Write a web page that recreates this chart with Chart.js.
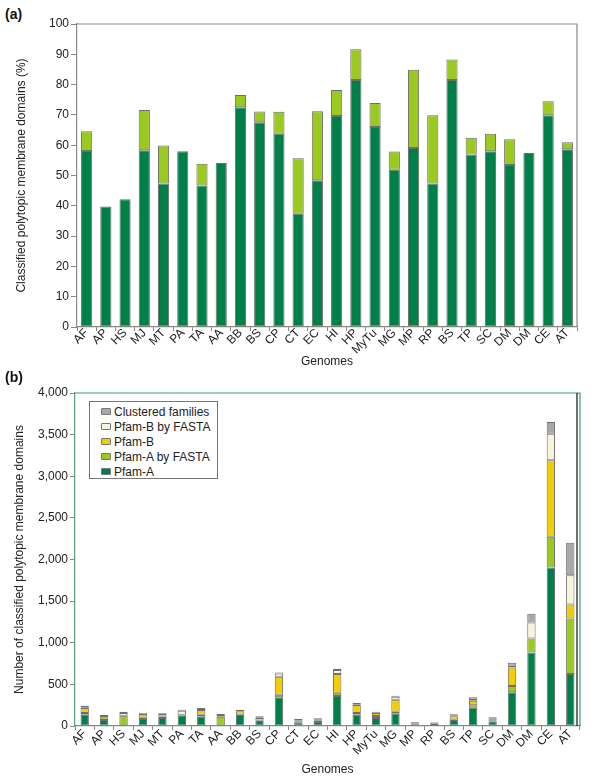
<!DOCTYPE html>
<html>
<head>
<meta charset="utf-8">
<script src="https://cdn.jsdelivr.net/npm/chart.js@4/dist/chart.umd.min.js"></script>
<style>
  body{margin:0;background:#fff;font-family:"Liberation Sans",Arial,sans-serif;}
  #wrap{position:relative;width:600px;height:781px;}
  .panel{position:absolute;left:0;}
  .tag{position:absolute;left:5px;font-weight:bold;font-size:14px;color:#111;}
  #legend{position:absolute;left:89px;top:401px;width:129px;height:78px;border:1px solid #777;background:#fff;
    font-size:12px;color:#222;padding:3px 0 0 0;box-sizing:border-box;}
  #legend div{height:15px;line-height:15px;padding-left:11px;white-space:nowrap;}
  #legend span{display:inline-block;width:8px;height:5px;border:1px solid #777;border-radius:1px;margin-right:3px;vertical-align:1px;}
</style>
</head>
<body>
<div id="wrap">
  <div class="tag" style="top:6px">(a)</div>
  <div class="panel" style="top:0"><canvas id="chartA" width="600" height="370"></canvas></div>
  <div class="tag" style="top:369px">(b)</div>
  <div class="panel" style="top:370px"><canvas id="chartB" width="600" height="411"></canvas></div>
  <div id="legend"></div>
</div>
<script>
// genomes on the x axis (same order in both panels)
const genomes = ['AF','AP','HS','MJ','MT','PA','TA','AA','BB','BS','CP','CT','EC','HI','HP','MyTu','MG','MP','RP','BS','TP','SC','DM','DM','CE','AT'];

// panel (a): % of polytopic membrane domains classified
const pctPfamA  = [58.1,39.8,42.2,58.3,47.4,58.0,46.7,54.1,72.5,67.6,63.8,37.4,48.4,69.6,81.5,66.0,51.9,59.1,47.4,81.5,56.9,58.0,53.5,57.4,69.9,58.7];
const pctFasta  = [6.5,0,0,13.3,12.5,0,7.2,0,4.1,3.5,7.2,18.3,22.8,8.6,10.2,7.9,6.0,25.8,22.5,6.8,5.6,5.8,8.5,0,4.6,2.3];

// panel (b): number of classified domains
const pfamA      = [136,72,0,84,96,128,112,0,132,60,344,40,48,360,136,96,148,20,24,72,220,56,404,884,1904,624];
const pfamAFasta = [20,32,124,16,16,4,24,112,4,4,32,16,16,40,20,24,24,8,8,4,30,8,76,168,368,668];
const pfamB      = [60,0,0,44,32,4,56,0,40,32,216,12,8,224,96,36,144,8,8,40,52,16,224,0,920,168];
const pfamBFasta = [8,16,32,4,4,48,0,8,4,4,40,4,8,48,4,4,36,4,4,8,10,8,20,192,320,352];
const clustered  = [20,12,16,8,8,12,24,24,12,16,12,12,12,16,20,12,12,8,8,16,32,16,36,104,140,388];

const pctTicks = [0,10,20,30,40,50,60,70,80,90,100];
const countTicks = [0,500,1000,1500,2000,2500,3000,3500,4000];

const C_DARK = '#008049', C_LIGHT = '#9ACA1F', C_YEL = '#F4CD00', C_CREAM = '#F6F4DA', C_GRAY = '#A8A8A8';
const EDGE = '#6e6e6e';
const FONT = '"Liberation Sans", Arial, sans-serif';

Chart.defaults.font.family = FONT;
Chart.defaults.color = '#222';

// frame around the plot area
const framePlugin = {
  id: 'frame',
  afterDraw(chart, args, opts){
    const a = chart.chartArea, ctx = chart.ctx;
    ctx.save();
    ctx.lineWidth = 1.2;
    ctx.strokeStyle = opts.color;
    ctx.beginPath();
    ctx.moveTo(a.left, a.top); ctx.lineTo(a.right, a.top); ctx.lineTo(a.right, a.bottom);
    ctx.stroke();
    if(opts.inner){
      ctx.strokeStyle = opts.inner;
      ctx.beginPath();
      ctx.moveTo(a.right-3, a.top); ctx.lineTo(a.right-3, a.bottom);
      ctx.stroke();
    }
    ctx.restore();
  }
};

function ds(label, data, color, pct){
  return { label, data, backgroundColor: color, borderColor: EDGE, borderWidth: 1,
    borderSkipped: false, barPercentage: pct, categoryPercentage: 1 };
}

function xScale(h, pad, titleBottom){
  return {
    stacked: true,
    grid: { drawOnChartArea: false, tickLength: 4, color: '#888' },
    border: { color: '#888', width: 1.2 },
    ticks: { minRotation: 45, maxRotation: 45, autoSkip: false, font: { size: 12 }, color: '#222', padding: pad },
    title: { display: true, text: 'Genomes', font: { size: 12 }, color: '#222', padding: { top: 0, bottom: titleBottom } },
    afterFit(s){ s.height = h; }
  };
}

new Chart(document.getElementById('chartA'), {
  type: 'bar',
  data: { labels: genomes, datasets: [
    ds('Pfam-A', pctPfamA, C_DARK, 0.58),
    ds('Pfam-A by FASTA', pctFasta, C_LIGHT, 0.58)
  ]},
  options: {
    responsive: false, animation: false,
    layout: { padding: { top: 24, right: 23 } },
    plugins: { legend: { display: false }, tooltip: { enabled: false }, frame: { color: '#888' } },
    scales: {
      x: xScale(43, -5, 1),
      y: {
        stacked: true, min: 0, max: 100,
        afterBuildTicks(s){ s.ticks = pctTicks.map(v => ({ value: v })); },
        grid: { drawOnChartArea: false, tickLength: 6, color: '#888' },
        border: { color: '#888', width: 1.2 },
        ticks: { font: { size: 12 }, color: '#222', padding: 2 },
        title: { display: true, text: 'Classified polytopic membrane domains (%)', font: { size: 12 }, color: '#222', padding: { top: 14, bottom: 0 } },
        afterFit(s){ s.width = 77; }
      }
    }
  },
  plugins: [framePlugin]
});

const bSets = [
  ds('Pfam-A', pfamA, C_DARK, 0.43),
  ds('Pfam-A by FASTA', pfamAFasta, C_LIGHT, 0.43),
  ds('Pfam-B', pfamB, C_YEL, 0.43),
  ds('Pfam-B by FASTA', pfamBFasta, C_CREAM, 0.43),
  ds('Clustered families', clustered, C_GRAY, 0.43)
];

new Chart(document.getElementById('chartB'), {
  type: 'bar',
  data: { labels: genomes, datasets: bSets },
  options: {
    responsive: false, animation: false,
    layout: { padding: { top: 23, right: 20 } },
    plugins: { legend: { display: false }, tooltip: { enabled: false }, frame: { color: '#3d9d6c', inner: '#111' } },
    scales: {
      x: xScale(55, -3, 4),
      y: {
        stacked: true, min: 0, max: 4000,
        afterBuildTicks(s){ s.ticks = countTicks.map(v => ({ value: v })); },
        grid: { drawOnChartArea: false, tickLength: 5, color: '#888' },
        border: { color: '#5d9c78', width: 1.2 },
        ticks: { font: { size: 12 }, color: '#222', padding: 2, callback: v => v.toLocaleString('en-US') },
        title: { display: true, text: 'Number of classified polytopic membrane domains', font: { size: 12 }, color: '#222', padding: { top: 12, bottom: 0 } },
        afterFit(s){ s.width = 75; }
      }
    }
  },
  plugins: [framePlugin]
});

// legend inside panel (b), top item = top of stack
const leg = document.getElementById('legend');
bSets.slice().reverse().forEach(d => {
  const row = document.createElement('div');
  row.innerHTML = `<span style="background:${d.backgroundColor}"></span>${d.label}`;
  leg.appendChild(row);
});
</script>
</body>
</html>
